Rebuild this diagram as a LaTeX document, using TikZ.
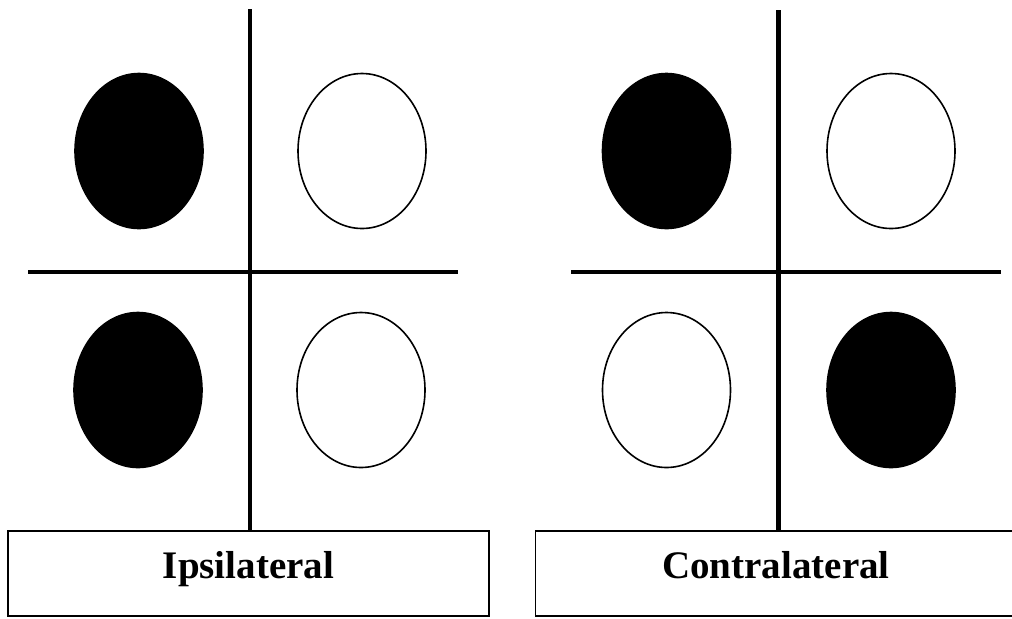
\documentclass[tikz,border=0pt]{standalone}
\usepackage{fontspec}
\setmainfont{Liberation Serif}
\usepackage{tikz}
\usetikzlibrary{shapes.geometric}

\begin{document}
\begin{tikzpicture}[
  x=0.5pt, y=-0.5pt,
  dot/.style={ellipse, draw=black, line width=0.8pt, inner sep=0pt,
              minimum width=64pt, minimum height=77.5pt},
  filled/.style={dot, fill=black},
  empty/.style={dot, fill=white},
  axis/.style={line width=2.2pt, black},
  label/.style={rectangle, draw=black, line width=0.7pt,
                minimum width=240.5pt, minimum height=42.5pt,
                text height=14pt, text depth=9.5pt,
                font=\fontsize{19.5}{22}\selectfont\bfseries}
]
  \useasboundingbox (0,0) rectangle (1012,618);

  % Ipsilateral
  \node[label] (ipsi) at (248.5,573.5) {Ipsilateral};
  \coordinate (ipsiTop) at (250,9);
  \coordinate (ipsiW) at (28,272);
  \coordinate (ipsiE) at (458,272);
  \draw[axis] (ipsiTop) -- (ipsiTop |- ipsi.north);
  \draw[axis] (ipsiW) -- (ipsiE);
  \node[filled] (ipsiTL) at (139,151) {};
  \node[empty]  (ipsiTR) at (362,151) {};
  \node[filled] (ipsiBL) at (138,390) {};
  \node[empty]  (ipsiBR) at (361,390) {};

  % Contralateral
  \node[label] (contra) at (776,573.5) {Contralateral};
  \coordinate (contraTop) at (778.5,10);
  \coordinate (contraW) at (571,272);
  \coordinate (contraE) at (1001,272);
  \draw[axis] (contraTop) -- (contraTop |- contra.north);
  \draw[axis] (contraW) -- (contraE);
  \node[filled] (contraTL) at (666.5,151) {};
  \node[empty]  (contraTR) at (891,151) {};
  \node[empty]  (contraBL) at (666.5,390) {};
  \node[filled] (contraBR) at (891,390) {};
\end{tikzpicture}
\end{document}
